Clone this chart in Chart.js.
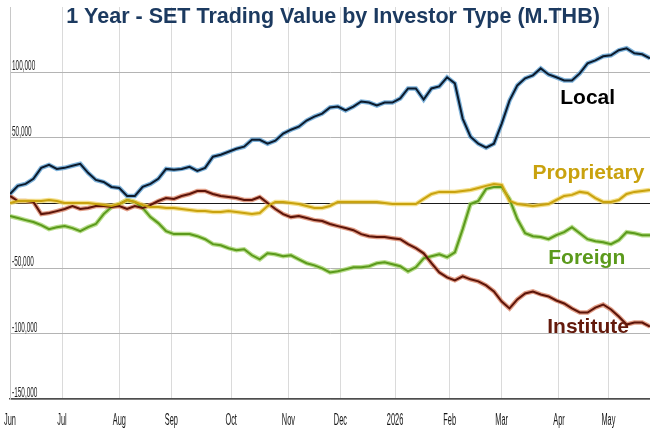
<!DOCTYPE html>
<html>
<head>
<meta charset="utf-8">
<title>SET Trading Value by Investor Type</title>
<script src="https://cdn.jsdelivr.net/npm/chart.js@4.4.1/dist/chart.umd.min.js"></script>
<style>
  html, body { margin: 0; padding: 0; background: #fff; }
  #wrap { width: 650px; height: 428px; position: relative; }
</style>
</head>
<body>
<div id="wrap"><canvas id="chart"></canvas></div>
<script>
// trading-day index where each month starts, and its label
const monthStart = [0, 20, 42, 62, 85, 107, 127, 148, 169, 189, 211, 230];
const monthLabels = ['Jun', 'Jul', 'Aug', 'Sep', 'Oct', 'Nov', 'Dec', '2026', 'Feb', 'Mar', 'Apr', 'May'];
const lastDay = 246;
const step = 3; // one reading every 3 trading days

// cumulative net buy/sell, M.THB
const local = [6900, 13100, 14600, 18500, 26900, 29200, 26100, 26900, 28500, 30000,
  23100, 17700, 16100, 12300, 11500, 5400, 5400, 12300, 14600, 18500,
  26100, 25400, 26100, 27700, 24600, 26900, 35400, 36900, 39200, 41500,
  43100, 48400, 48400, 45400, 47700, 53100, 56100, 58400, 63100, 66100,
  68400, 73100, 73800, 70800, 73800, 77700, 76900, 74600, 76900, 76900,
  80000, 87700, 87700, 79200, 87700, 89200, 96200, 91500, 64600, 50800,
  45400, 42300, 45400, 60800, 78400, 90000, 95400, 97700, 103000, 98400,
  96200, 93800, 93800, 99200, 106900, 109200, 112300, 113000, 116900, 118400,
  114600, 113800, 110700];

const proprietary = [0, 1500, 1500, 1500, 1500, 2300, 1500, 0, 0, 0,
  0, -800, -1500, -2300, -800, 2300, 800, -1500, -3100, -3100,
  -3800, -3800, -4600, -5400, -6200, -6200, -6900, -6900, -6200, -6900,
  -7700, -8500, -7700, -2300, 800, 800, 0, -800, -2300, -3800,
  -3800, -2300, 800, 800, 800, 800, 800, 800, 0, -800,
  -800, -800, -800, 3100, 6900, 8500, 8500, 8500, 9200, 10000,
  11500, 13100, 14600, 13800, 1500, -800, -1500, -2300, -1500, -800,
  2300, 5400, 6200, 8500, 7700, 3800, 800, 800, 2300, 6900,
  8500, 9200, 10000];

const foreign = [-10000, -11500, -13100, -14600, -16900, -20000, -18500, -17700, -19200, -21500,
  -18500, -16100, -8500, -3100, -800, 2300, 800, -3800, -10800, -15400,
  -21500, -23800, -23800, -23800, -25400, -27700, -31500, -32300, -34600, -36100,
  -35400, -40000, -43100, -38500, -39200, -40800, -40000, -43100, -46100, -47700,
  -50000, -53100, -52300, -50800, -49200, -49200, -48400, -46100, -45400, -46900,
  -48400, -52300, -49200, -42300, -40800, -39200, -41500, -37700, -20000, -800,
  1500, 10800, 12300, 12300, 3100, -12300, -23100, -25400, -26100, -27700,
  -24600, -22300, -18500, -23100, -27700, -29200, -30000, -31500, -28500, -22300,
  -23100, -24600, -24600];

const institute = [5400, 1500, 1500, 800, -8500, -7700, -6200, -4600, -2300, -4600,
  -3800, -2300, -2300, -3100, -2300, -4600, -2300, -3800, -1500, 1500,
  3800, 3100, 5400, 6900, 9200, 9200, 6900, 5400, 4600, 3800,
  2300, 2300, 4600, 0, -4600, -8500, -10800, -10000, -11500, -13100,
  -13800, -16100, -17700, -19200, -20800, -23800, -25400, -26100, -26100, -26900,
  -27700, -31500, -34600, -38500, -46100, -53100, -56900, -59200, -56100, -58400,
  -60000, -63100, -67700, -75400, -80700, -73800, -69200, -67700, -70000, -71500,
  -74600, -76900, -80700, -83800, -83800, -80000, -77700, -81500, -86900, -93000,
  -91500, -91500, -94600];

const toPoints = values => values.map((v, i) => ({ x: i * step, y: v }));

// each line is drawn twice: a soft halo under a dark core
function line(label, values, color, width, order) {
  return {
    label: label,
    data: toPoints(values),
    borderColor: color,
    borderWidth: width,
    pointRadius: 0,
    tension: 0,
    order: order
  };
}

const datasets = [
  line('Foreign halo', foreign, 'rgba(160,210,100,0.75)', 4.5, 13),
  line('Institute halo', institute, 'rgba(215,125,95,0.75)', 4.5, 12),
  line('Proprietary halo', proprietary, 'rgba(240,215,110,0.8)', 4.5, 11),
  line('Local halo', local, 'rgba(95,160,210,0.8)', 4.5, 10),
  line('Foreign', foreign, '#5b9a1c', 2, 3),
  line('Institute', institute, '#5c1409', 2, 2),
  line('Proprietary', proprietary, '#c9a20e', 2, 1),
  line('Local', local, '#0b1a2c', 2, 0)
];

const whiteBg = {
  id: 'whiteBg',
  beforeDraw(chart) {
    const ctx = chart.ctx;
    ctx.save();
    ctx.fillStyle = '#ffffff';
    ctx.fillRect(0, 0, chart.width, chart.height);
    ctx.restore();
  }
};

// tick labels in the squeezed look of the original
const narrowTicks = {
  id: 'narrowTicks',
  afterDraw(chart) {
    const { ctx, scales: { x, y } } = chart;
    const put = (text, px, py, align) => {
      ctx.save();
      ctx.translate(px, py);
      ctx.scale(0.46, 1);
      ctx.textAlign = align;
      ctx.fillText(text, 0, 0);
      ctx.restore();
    };
    ctx.save();
    ctx.fillStyle = '#1e1e1e';
    ctx.textBaseline = 'alphabetic';
    ctx.font = '14px "Liberation Sans"';
    y.ticks.forEach(t => {
      if (t.value === 0 || t.value >= y.max) return;
      put(t.value.toLocaleString('en-US'), y.right + 2, y.getPixelForValue(t.value) - 2, 'left');
    });
    ctx.fillStyle = '#141414';
    ctx.font = '16px "Liberation Sans"';
    x.ticks.forEach((t, i) => put(monthLabels[i], x.getPixelForValue(t.value), x.top + 26, 'center'));
    ctx.restore();
  }
};

const seriesNames = {
  id: 'seriesNames',
  afterDraw(chart) {
    const { ctx, scales: { x, y } } = chart;
    const names = [
      { text: 'Local', color: '#000000', day: 211.5, value: 80000 },
      { text: 'Proprietary', color: '#c9a20e', day: 200.8, value: 23000 },
      { text: 'Foreign', color: '#5b9a1c', day: 206.9, value: -41900 },
      { text: 'Institute', color: '#641a0c', day: 206.5, value: -95400 }
    ];
    ctx.save();
    ctx.font = 'bold 21px "Liberation Sans"';
    ctx.textAlign = 'left';
    ctx.textBaseline = 'middle';
    names.forEach(n => {
      ctx.fillStyle = n.color;
      ctx.fillText(n.text, x.getPixelForValue(n.day), y.getPixelForValue(n.value));
    });
    ctx.font = 'bold 21.5px "Liberation Sans"';
    ctx.fillStyle = '#1c3a60';
    ctx.textAlign = 'center';
    ctx.fillText('1 Year - SET Trading Value by Investor Type (M.THB)', 333, 17);
    ctx.restore();
  }
};

new Chart(document.getElementById('chart'), {
  type: 'line',
  data: { datasets: datasets },
  plugins: [whiteBg, narrowTicks, seriesNames],
  options: {
    responsive: true,
    maintainAspectRatio: false,
    animation: false,
    layout: { padding: { top: 7, left: 0, right: 0, bottom: 0 } },
    plugins: {
      legend: { display: false },
      tooltip: { enabled: false },
      title: { display: false }
    },
    scales: {
      x: {
        type: 'linear',
        min: 0,
        max: lastDay,
        afterBuildTicks: s => { s.ticks = monthStart.map(v => ({ value: v })); },
        afterFit: s => { s.height = 29; },
        ticks: { display: false },
        grid: { color: '#dadada', lineWidth: 1, drawTicks: false },
        border: { color: '#4d4d4d', width: 1.5 }
      },
      y: {
        min: -150000,
        max: 150000,
        afterFit: s => { s.width = 10; },
        ticks: { display: false, stepSize: 50000 },
        grid: {
          drawTicks: false,
          color: c => c.tick.value === 0 ? '#1a1a1a' : (c.tick.value >= 150000 ? 'rgba(0,0,0,0)' : '#b4b4b4')
        },
        border: { color: '#c8c8c8', width: 1 }
      }
    }
  }
});
</script>
</body>
</html>
